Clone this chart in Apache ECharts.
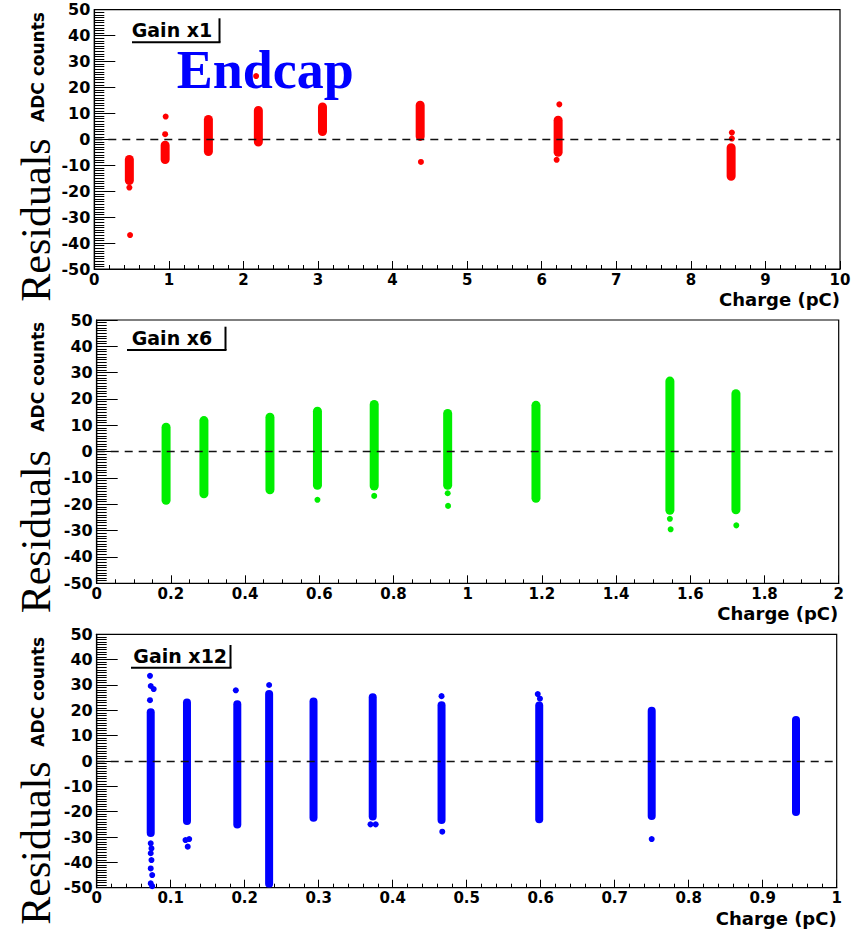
<!DOCTYPE html>
<html>
<head>
<meta charset="utf-8">
<script src="https://cdn.jsdelivr.net/npm/echarts@6/dist/echarts.min.js"></script>
<style>
  html, body { margin: 0; padding: 0; background: #fff; }
  #chart { width: 863px; height: 933px; }
</style>
</head>
<body>
<div id="chart"></div>
<script>
// ---- Gain x1 (charge in pC, residual in ADC counts) ----
const gain1Charge = [0.47, 0.95, 1.53, 2.20, 3.06, 4.37, 6.22, 8.54];
const gain1Low    = [-17.6, -9.5, -6.4, -2.8, 1.3, -0.6, -6.7, -16.0];
const gain1High   = [-6.0, -0.5, 9.4, 12.9, 14.2, 14.9, 9.1, -1.5];
const gain1Single = [[0.47, -18.6], [0.48, -36.9], [0.95, 2.0], [0.957, 8.8], [2.17, 24.4],
                     [4.38, -8.7], [6.236, 13.5], [6.20, -7.9], [8.55, 2.6], [8.55, 0.3]];

// ---- Gain x6 ----
const gain6Charge = [0.187, 0.289, 0.467, 0.595, 0.748, 0.946, 1.184, 1.545, 1.723];
const gain6Low    = [-20.2, -17.7, -16.2, -14.5, -14.8, -14.5, -19.4, -24.0, -23.8];
const gain6High   = [11.0, 13.5, 14.8, 17.1, 19.6, 16.2, 19.3, 28.5, 23.7];
const gain6Single = [[0.595, -18.3], [0.748, -16.8], [0.946, -15.8], [0.947, -20.6],
                     [1.545, -25.5], [1.547, -29.5], [1.724, -28.0]];

// ---- Gain x12 ----
const gain12Charge = [0.073, 0.122, 0.190, 0.233, 0.293, 0.373, 0.466, 0.598, 0.750, 0.945];
const gain12Low    = [-30.0, -25.3, -26.6, -50.0, -24.0, -23.5, -24.9, -24.6, -23.3, -21.7];
const gain12High   = [20.8, 24.7, 24.0, 28.0, 25.1, 26.7, 23.6, 23.5, 21.4, 17.8];
const gain12Single = [[0.072, 33.6], [0.073, 29.6], [0.077, 28.4], [0.072, 24.0],
                      [0.073, -32.5], [0.074, -34.5], [0.073, -36.4], [0.074, -39.1],
                      [0.073, -42.4], [0.075, -45.0], [0.073, -48.3], [0.075, -49.4],
                      [0.120, -31.2], [0.125, -30.8], [0.123, -33.8], [0.188, 27.9],
                      [0.233, 30.0], [0.370, -25.0], [0.377, -25.0], [0.466, 25.6],
                      [0.467, -27.9], [0.596, 26.4], [0.599, 24.6], [0.750, -30.8]];

// Axis ranges and tick spacing
const xMax      = [10, 2, 1];
const xStep     = [1, 0.2, 0.1];
const xMinorDiv = [5, 4, 5];
const gainNames = ['Gain x1', 'Gain x6', 'Gain x12'];

const panels = [
  { charge: gain1Charge, low: gain1Low, high: gain1High, single: gain1Single, color: '#ff0000', strip: 9 },
  { charge: gain6Charge, low: gain6Low, high: gain6High, single: gain6Single, color: '#00ee00', strip: 9 },
  { charge: gain12Charge, low: gain12Low, high: gain12High, single: gain12Single, color: '#0000ff', strip: 8 }
];

const grids = [
  { left: 94.3, top: 9.7, width: 745.7, height: 259.3 },
  { left: 96.7, top: 320, width: 742, height: 263.3 },
  { left: 96.7, top: 634.3, width: 740, height: 253.4 }
];

const tickFont = { fontFamily: 'DejaVu Sans', fontWeight: 'bold', color: '#000' };

const xAxes = grids.map((g, i) => ({
  type: 'value', gridIndex: i, min: 0, max: xMax[i], interval: xStep[i],
  axisLine: { show: true, onZero: false, lineStyle: { color: '#000', width: 1.2 } },
  axisTick: { show: true, inside: true, length: 8, lineStyle: { color: '#000', width: 1 } },
  minorTick: { show: true, splitNumber: xMinorDiv[i], length: 4, lineStyle: { color: '#000', width: 1 } },
  splitLine: { show: false },
  axisLabel: Object.assign({ fontSize: 15, lineHeight: 13, margin: 4, showMinLabel: true, showMaxLabel: true, hideOverlap: false }, tickFont)
}));

const yAxes = grids.map((g, i) => ({
  type: 'value', gridIndex: i, min: -50, max: 50, interval: 10,
  axisLine: { show: true, onZero: false, lineStyle: { color: '#000', width: 1.2 } },
  axisTick: { show: true, inside: true, length: 21, lineStyle: { color: '#000', width: 1 } },
  minorTick: { show: true, splitNumber: 10, length: 10, lineStyle: { color: '#000', width: 1 } },
  splitLine: { show: false },
  axisLabel: Object.assign({ fontSize: 16, lineHeight: 13, margin: 4, showMinLabel: true, showMaxLabel: true, hideOverlap: false }, tickFont)
}));

function stripRenderer(width, color) {
  return function (params, api) {
    const x = api.value(0);
    const top = api.coord([x, api.value(2)]);
    const bot = api.coord([x, api.value(1)]);
    return {
      type: 'rect',
      shape: { x: top[0] - width / 2, y: top[1], width: width, height: bot[1] - top[1], r: width / 2 },
      style: { fill: color }
    };
  };
}

const series = [];
panels.forEach((p, i) => {
  series.push({
    type: 'custom', xAxisIndex: i, yAxisIndex: i, clip: true,
    renderItem: stripRenderer(p.strip, p.color),
    encode: { x: 0, y: [1, 2] },
    data: p.charge.map((c, k) => [c, p.low[k], p.high[k]]),
    silent: true
  });
  series.push({
    type: 'scatter', xAxisIndex: i, yAxisIndex: i,
    symbol: 'circle', symbolSize: 6,
    itemStyle: { color: p.color, opacity: 1 },
    data: p.single,
    silent: true,
    markLine: {
      silent: true, symbol: ['none', 'none'], label: { show: false },
      lineStyle: { color: '#111', width: 1.4, type: [8, 6] },
      data: [{ yAxis: 0 }]
    }
  });
});

// Text and decoration around each panel
const residualY = [220, 531.7, 843];
const adcY      = [67, 376.7, 691.7];
const chargeY   = [299, 613, 918];
const chargeX   = [840, 838.3, 836.7];
const gainTextY = [30.4, 337.7, 656];
const gainTextX = [131.7, 131.7, 133.3];
const boxLineY  = [42.3, 350, 667.7];
const boxLeft   = [132, 127, 131];
const boxRight  = [219.5, 225.5, 230.5];
const boxTop    = [18.3, 326.7, 645];

const graphic = [];
for (let i = 0; i < 3; i++) {
  graphic.push({
    type: 'text', x: 36, y: residualY[i], rotation: Math.PI / 2,
    style: { text: 'Residuals', font: '42px "Liberation Serif"', fill: '#000', textAlign: 'center', textVerticalAlign: 'middle' }
  });
  graphic.push({
    type: 'text', x: 37.5, y: adcY[i], rotation: Math.PI / 2,
    style: { text: 'ADC counts', font: 'bold 17px "DejaVu Sans"', fill: '#000', textAlign: 'center', textVerticalAlign: 'middle' }
  });
  graphic.push({
    type: 'text', x: chargeX[i], y: chargeY[i],
    style: { text: 'Charge (pC)', font: 'bold 18px "DejaVu Sans"', lineHeight: 15, fill: '#000', textAlign: 'right', textVerticalAlign: 'middle' }
  });
  graphic.push({
    type: 'text', x: gainTextX[i], y: gainTextY[i],
    style: { text: gainNames[i], font: 'bold 19px "DejaVu Sans"', fill: '#000', textAlign: 'left', textVerticalAlign: 'middle' }
  });
  graphic.push({
    type: 'line', shape: { x1: boxLeft[i], y1: boxLineY[i], x2: boxRight[i] + 1, y2: boxLineY[i] },
    style: { stroke: '#000', lineWidth: 2 }
  });
  graphic.push({
    type: 'line', shape: { x1: boxRight[i], y1: boxTop[i], x2: boxRight[i], y2: boxLineY[i] },
    style: { stroke: '#000', lineWidth: 2 }
  });
}
graphic.push({
  type: 'text', x: 176.7, y: 69.5,
  style: { text: 'Endcap', font: 'bold 54px "Liberation Serif"', fill: '#0000ff', textAlign: 'left', textVerticalAlign: 'middle' }
});

const chart = echarts.init(document.getElementById('chart'), null, { renderer: 'svg', width: 863, height: 933 });
chart.setOption({
  backgroundColor: '#fff',
  animation: false,
  grid: grids.map(g => Object.assign({ show: true, borderColor: '#000', borderWidth: 1.2, backgroundColor: 'transparent', containLabel: false }, g)),
  xAxis: xAxes,
  yAxis: yAxes,
  series: series,
  graphic: graphic
});
</script>
</body>
</html>
